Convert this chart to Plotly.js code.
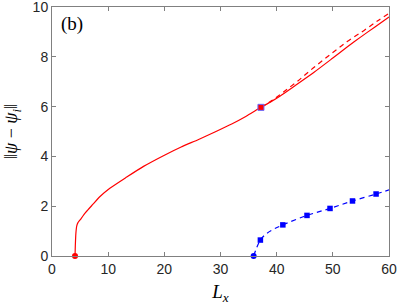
<!DOCTYPE html>
<html><head><meta charset="utf-8">
<script src="https://cdn.plot.ly/plotly-3.0.1.min.js"></script>
<style>html,body{margin:0;padding:0;background:#fff}#plot{width:399px;height:305px}</style>
</head><body><div id="plot"></div>
<script>
// Red solid branch
const redX = [4.1,4.15,4.25,4.4,4.6,5,6,7.3,8.5,10.3,13.3,16.3,20.1,23,26.1,29,32,34.5,37.2,39,40.7,43,46.6,50,52.6,55,57.5,60];
const redY = [0,0.4,0.9,1.2,1.33,1.45,1.75,2.08,2.38,2.72,3.17,3.6,4.06,4.38,4.68,4.98,5.3,5.6,5.97,6.2,6.44,6.8,7.37,7.95,8.4,8.8,9.2,9.6];
// Red dashed branch
const redDashX = [37.2,39,41,43.6,46.5,49.6,52.5,55.5,58,60];
const redDashY = [5.97,6.22,6.55,7.0,7.55,8.1,8.6,9.05,9.45,9.75];
// Blue dashed curve
const blueX = [35.9,37.1,38.2,39.5,41.1,45.4,49.5,53.5,57.7,60.2];
const blueY = [0,0.64,0.9,1.08,1.25,1.63,1.91,2.21,2.49,2.67];
// Blue square markers
const blueSqX = [37.1,41.1,45.4,49.5,53.5,57.7];
const blueSqY = [0.64,1.25,1.63,1.91,2.21,2.49];
// Special points
const redDotX = [4.1], redDotY = [0];
const blueDotX = [35.9], blueDotY = [0];
const bifX = [37.2], bifY = [5.97];
// Tick labels
const xTicks = [0,10,20,30,40,50,60];
const yTicks = [0,2,4,6,8,10];

const red = '#ff0000', blue = '#0000ff';
const traces = [
  {x: redX, y: redY, mode: 'lines', line: {color: red, width: 1.2, shape: 'spline', smoothing: 0.6}},
  {x: redDashX, y: redDashY, mode: 'lines', line: {color: red, width: 1.2, dash: '5px,4px', shape: 'spline'}},
  {x: blueX, y: blueY, mode: 'lines', line: {color: blue, width: 1.2, dash: '5px,4px', shape: 'spline'}},
  {x: blueSqX, y: blueSqY, mode: 'markers', marker: {symbol: 'square', size: 5.5, color: blue}},
  {x: redDotX, y: redDotY, mode: 'markers', marker: {symbol: 'circle', size: 6, color: red}, cliponaxis: false},
  {x: blueDotX, y: blueDotY, mode: 'markers', marker: {symbol: 'circle', size: 6, color: blue}, cliponaxis: false},
  {x: bifX, y: bifY, mode: 'markers', marker: {symbol: 'square', size: 6, color: red, line: {color: '#6666ff', width: 1}}}
];
const axCommon = {
  showgrid: false, zeroline: false, showline: true, mirror: 'ticks',
  linecolor: '#808080', linewidth: 1, ticks: 'inside', ticklen: 4, tickcolor: '#808080',
  ticklabeloverflow: 'allow',
  tickfont: {family: 'Liberation Sans, Arial, sans-serif', size: 14, color: '#262626'}
};
const layout = {
  width: 399, height: 305,
  margin: {l: 52, r: 10, t: 7, b: 49},
  paper_bgcolor: '#fff', plot_bgcolor: '#fff',
  showlegend: false,
  xaxis: Object.assign({}, axCommon, {range: [0, 60], tickvals: xTicks, ticktext: xTicks.map(String),
    title: {text: '<i>L</i><sub><i>x</i></sub>', font: {family: 'Liberation Serif, serif', size: 19, color: '#000'}, standoff: 8}}),
  yaxis: Object.assign({}, axCommon, {range: [0, 10], tickvals: yTicks, ticktext: yTicks.map(String),
    title: {text: '‖<i>ψ</i> − <i>ψ</i><sub><i>i</i></sub>‖', font: {family: 'Liberation Serif, serif', size: 18, color: '#000'}, standoff: 10}}),
  annotations: [{text: '(b)', xref: 'paper', yref: 'paper', x: 0.02, y: 0.985, xanchor: 'left', yanchor: 'top', showarrow: false,
    font: {family: 'Liberation Serif, serif', size: 19, color: '#000'}}]
};
Plotly.newPlot('plot', traces, layout, {displayModeBar: false, staticPlot: true});
</script></body></html>
